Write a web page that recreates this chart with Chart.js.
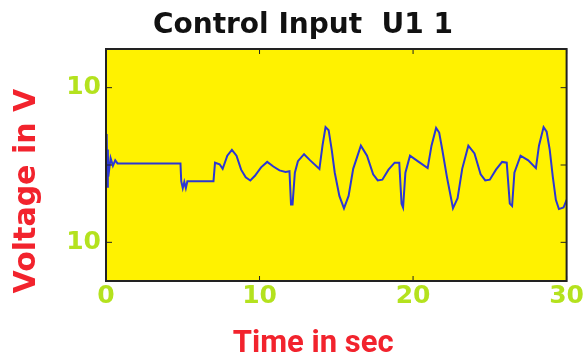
<!DOCTYPE html>
<html>
<head>
<meta charset="utf-8">
<script src="https://cdn.jsdelivr.net/npm/chart.js@4/dist/chart.umd.min.js"></script>
<style>
  html, body { margin: 0; padding: 0; background: #fff; }
  #wrap { width: 584px; height: 360px; }
</style>
</head>
<body>
<div id="wrap"><canvas id="myChart"></canvas></div>
<script>
// control input u1
const timeSec = [0, 0.03, 0.06, 0.09, 0.12, 0.15, 0.3, 0.45, 0.6, 0.75, 4.85,
  4.9, 5.0, 5.1, 5.2, 5.3, 7.0,
  7.1, 7.4, 7.6, 7.9, 8.2, 8.5, 8.8, 9.1, 9.4, 9.7, 10.1, 10.5, 10.9, 11.3, 11.7, 11.95,
  12.05, 12.15, 12.3, 12.5, 12.9, 13.3, 13.9, 14.1, 14.3, 14.5, 14.7, 14.9, 15.2, 15.5, 15.8,
  16.1, 16.6, 17.0, 17.4, 17.7, 18.0, 18.4, 18.8, 19.1, 19.25, 19.35, 19.5, 19.8, 20.3, 20.95,
  21.2, 21.5, 21.7, 21.9, 22.2, 22.6, 22.9, 23.2, 23.6, 24.0, 24.4, 24.7, 25.0, 25.4, 25.8,
  26.1, 26.3, 26.45, 26.6, 27.0, 27.5, 28.0, 28.2, 28.5, 28.7, 28.9, 29.1, 29.3, 29.5, 29.8, 30];
const voltage = [4.0, -2.9, 3.8, -2.8, 2.0, -1.5, 0.9, -0.1, 0.6, 0.2, 0.2,
  -2.1, -3.0, -2.2, -3.0, -2.1, -2.1,
  0.3, 0.1, -0.5, 1.2, 1.95, 1.2, -0.6, -1.6, -2.0, -1.4, -0.3, 0.4, -0.2, -0.7, -0.9, -0.8,
  -5.1, -5.1, -1.0, 0.5, 1.4, 0.6, -0.5, 2.5, 4.9, 4.5, 2.0, -1.0, -4.0, -5.6, -4.0,
  -0.5, 2.5, 1.2, -1.2, -2.0, -1.9, -0.6, 0.3, 0.3, -5.0, -5.5, -1.0, 1.2, 0.5, -0.4,
  2.5, 4.8, 4.2, 2.0, -1.5, -5.6, -4.3, -0.5, 2.5, 1.5, -1.2, -2.0, -1.9, -0.6, 0.4,
  0.3, -5.0, -5.3, -1.0, 1.2, 0.6, -0.4, 2.5, 4.9, 4.3, 2.0, -1.5, -4.5, -5.7, -5.5, -4.5];
const xTicks = [0, 10, 20, 30];
const yTicks = [-10, 0, 10];

const ctx = document.getElementById('myChart');

let points = [];
for (let i = 0; i < timeSec.length; i++) {
    points.push({x: timeSec[i], y: voltage[i]})
}

// yellow box with a dark frame and small inward ticks (matlab style)
const plotFrame = {
    id: 'plotFrame',
    beforeDraw(chart) {
        const a = chart.chartArea;
        const c = chart.ctx;
        c.save();
        c.fillStyle = '#fff200';
        c.fillRect(a.left, a.top, a.right - a.left, a.bottom - a.top);
        c.restore();
    },
    afterDraw(chart) {
        const a = chart.chartArea;
        const c = chart.ctx;
        const xs = chart.scales.x;
        const ys = chart.scales.y;
        c.save();
        c.strokeStyle = '#222';
        c.lineWidth = 1;
        c.beginPath();
        for (let v of xTicks) {
            const px = xs.getPixelForValue(v);
            c.moveTo(px, a.top); c.lineTo(px, a.top + 5);
            c.moveTo(px, a.bottom); c.lineTo(px, a.bottom - 5);
        }
        for (let v of yTicks) {
            const py = ys.getPixelForValue(v);
            c.moveTo(a.right, py); c.lineTo(a.right - 6, py);
            c.moveTo(a.left, py); c.lineTo(a.left + 6, py);
        }
        c.stroke();
        c.lineWidth = 2;
        c.strokeRect(a.left, a.top, a.right - a.left, a.bottom - a.top);
        c.restore();
    }
};

const myChart = new Chart(ctx, {
    type: 'line',
    data: {
        datasets: [{
            label: 'U1',
            data: points,
            borderColor: '#2b36d4',
            borderWidth: 2,
            pointRadius: 0,
            tension: 0,
            fill: false,
        }]
    },
    options: {
        responsive: true,
        maintainAspectRatio: false,
        animation: false,
        layout: { padding: { left: 0, right: 17, top: 0, bottom: 0 } },
        plugins: {
            legend: { display: false },
            tooltip: { enabled: false },
            title: {
                display: true,
                text: '    Control Input  U1 1',
                color: '#111',
                font: { family: 'DejaVu Sans', weight: 'bold', size: 28 },
                padding: { top: 9, bottom: 6.4 }
            }
        },
        scales: {
            x: {
                type: 'linear',
                min: 0,
                max: 30,
                afterBuildTicks: (s) => { s.ticks = xTicks.map(v => ({value: v})) },
                afterFit: (s) => { s.height = 79 },
                grid: { display: false, drawTicks: false },
                border: { display: false },
                ticks: {
                    color: '#b4e21e',
                    font: { family: 'DejaVu Sans', weight: 'bold', size: 25 },
                    padding: 0,
                    maxRotation: 0
                },
                title: {
                    display: true,
                    text: 'Time in sec      ',
                    color: '#f2232d',
                    font: { family: 'Roboto', weight: 'bold', size: 31, lineHeight: 1.0 },
                    padding: { top: 0, bottom: 0 }
                }
            },
            y: {
                min: -15,
                max: 15,
                afterBuildTicks: (s) => { s.ticks = yTicks.map(v => ({value: v})) },
                afterFit: (s) => { s.width = 106 },
                grid: { display: false, drawTicks: false },
                border: { display: false },
                ticks: {
                    color: '#b4e21e',
                    font: { family: 'DejaVu Sans', weight: 'bold', size: 25 },
                    padding: 5,
                    callback: (v) => v === 0 ? '' : String(Math.abs(v))
                },
                title: {
                    display: true,
                    text: 'Voltage in V     ',
                    color: '#f2232d',
                    font: { family: 'DejaVu Sans', weight: 'bold', size: 30 },
                    padding: { top: 9, bottom: 0 }
                }
            }
        }
    },
    plugins: [plotFrame]
});
</script>
</body>
</html>
